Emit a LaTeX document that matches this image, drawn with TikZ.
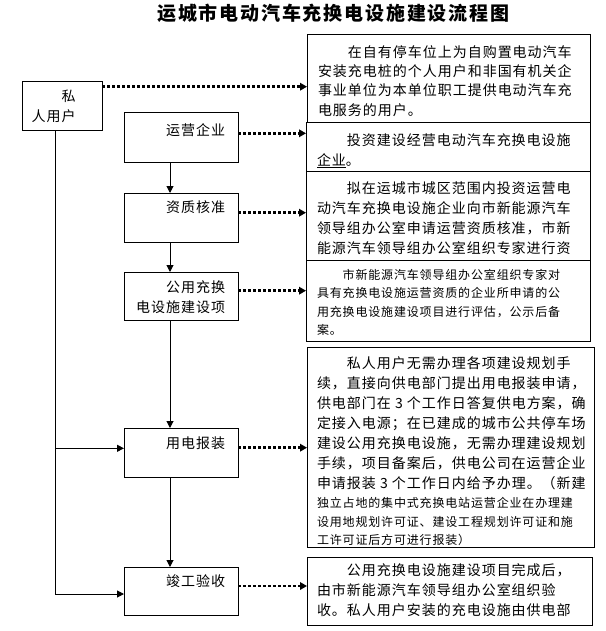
\documentclass[tikz,border=0pt]{standalone}
\usepackage{fontspec}
\newfontfamily\cjk[LetterSpace=7]{Noto Sans CJK SC}
\newfontfamily\cjkt[LetterSpace=9.5]{Noto Sans CJK SC}
\usetikzlibrary{arrows.meta}
\tikzset{
  box/.style={draw, line width=1pt, inner sep=0pt, outer sep=0pt, anchor=north west},
  bigtxt/.style={inner sep=0pt, outer sep=0pt, anchor=north west, align=left, font=\cjk\fontsize{14}{20}\selectfont},
  smalltxt/.style={inner sep=0pt, outer sep=0pt, anchor=north west, align=left, font=\cjk\fontsize{12}{18.33}\selectfont},
  lefttxt/.style={inner sep=0pt, outer sep=0pt, anchor=north east, align=right, font=\cjk\fontsize{14}{20}\selectfont},
  flow/.style={line width=1pt, -{Triangle[length=7pt,width=7pt]}},
  plain/.style={line width=1pt},
  dotarrow/.style={line width=2.5pt, dash pattern=on 3pt off 2pt, -{Triangle[length=7pt,width=7.5pt]}}
}
\newcommand{\bgstrut}{\rule{0pt}{12pt}}
\newcommand{\smstrut}{\rule{0pt}{10.5pt}}
\begin{document}
\begin{tikzpicture}[x=1pt,y=-1pt]
\useasboundingbox (0,0) rectangle (605,631);
\fill[white] (0,0) rectangle (605,631);

% title
\node[inner sep=0pt, font=\cjkt\bfseries\fontsize{19}{19}\selectfont] (title) at (333.3,13.5) {运城市电动汽车充换电设施建设流程图};

% left boxes
\node[box, minimum width=80pt, minimum height=49pt] (P) at (22,82) {};
\node[box, minimum width=114pt, minimum height=50pt] (A) at (124,113) {};
\node[box, minimum width=114pt, minimum height=49pt] (B) at (124,193) {};
\node[box, minimum width=114pt, minimum height=48pt] (C) at (124,272) {};
\node[box, minimum width=114pt, minimum height=49pt] (D) at (124,428) {};
\node[box, minimum width=114pt, minimum height=48pt] (E) at (124,567) {};

\node[lefttxt] (Pt) at (75.5,90) {\bgstrut 私\\人用户};
\node[lefttxt] (At) at (225,123.3) {\bgstrut 运营企业};
\node[lefttxt] (Bt) at (225,200) {\bgstrut 资质核准};
\node[lefttxt] (Ct) at (225,280) {\bgstrut 公用充换\\电设施建设项};
\node[lefttxt] (Dt) at (225,436) {\bgstrut 用电报装};
\node[lefttxt] (Et) at (225,574) {\bgstrut 竣工验收};

% right boxes
\node[box, minimum width=283pt, minimum height=88pt] (R1) at (307,35) {};
\node[box, minimum width=284pt, minimum height=49pt] (R2) at (306,123) {};
\node[box, minimum width=284pt, minimum height=88pt] (R3) at (306,172) {};
\node[box, minimum width=284pt, minimum height=81pt] (R4) at (306,260) {};
\node[box, minimum width=287pt, minimum height=200pt] (R5) at (307,347) {};
\node[box, minimum width=285pt, minimum height=68pt] (R6) at (307,557) {};

\node[bigtxt, font=\cjk\fontsize{14}{19.2}\selectfont] (T1) at (318,45.6) {\bgstrut 　　在自有停车位上为自购置电动汽车\\安装充电桩的个人用户和非国有机关企\\事业单位为本单位职工提供电动汽车充\\电服务的用户。};
\node[bigtxt] (T2) at (317,133.3) {\bgstrut 　　投资建设经营电动汽车充换电设施\\\underline{企业}。};
\node[bigtxt] (T3) at (317,181.6) {\bgstrut 　　拟在运城市城区范围内投资运营电\\动汽车充换电设施企业向市新能源汽车\\领导组办公室申请运营资质核准，市新\\能源汽车领导组办公室组织专家进行资};
\node[smalltxt] (T4) at (317,269.1) {\smstrut 　　市新能源汽车领导组办公室组织专家对\\具有充换电设施运营资质的企业所申请的公\\用充换电设施建设项目进行评估，公示后备\\案。};
\node[bigtxt] (T5) at (317,356.6) {\bgstrut 　　私人用户无需办理各项建设规划手\\续，直接向供电部门提出用电报装申请，\\供电部门在 3 个工作日答复供电方案，确\\定接入电源；在已建成的城市公共停车场\\建设公用充换电设施，无需办理建设规划\\手续，项目备案后，供电公司在运营企业\\申请报装 3 个工作日内给予办理。（新建};
\node[smalltxt] (T5b) at (317,497.4) {\smstrut 独立占地的集中式充换电站运营企业在办理建\\设用地规划许可证、建设工程规划许可证和施\\工许可证后方可进行报装）};
\node[bigtxt] (T6) at (317,563.3) {\bgstrut 　　公用充换电设施建设项目完成后，\\由市新能源汽车领导组办公室组织验\\收。私人用户安装的充电设施由供电部};

% helper coordinates
\coordinate (cx) at (170,0);
\coordinate (lx) at (55,0);
\coordinate (yP) at (0,86.7);
\coordinate (yA) at (0,133.3);
\coordinate (yB) at (0,212.7);
\coordinate (yC) at (0,290.7);
\coordinate (yD) at (0,447.7);
\coordinate (yE) at (0,586);
\coordinate (yD2) at (0,448.3);
\coordinate (yE2) at (0,594);

% solid flow
\draw[flow] (A.south -| cx) -- (B.north -| cx);
\draw[flow] (B.south -| cx) -- (C.north -| cx);
\draw[flow] (C.south -| cx) -- (D.north -| cx);
\draw[flow] (D.south -| cx) -- (E.north -| cx);
\draw[flow] (P.south -| lx) |- (E.west |- yE2);
\draw[flow] (lx |- yD2) -- (D.west |- yD2);

% dotted arrows
\draw[dotarrow] (P.east |- yP) -- (R1.west |- yP);
\draw[dotarrow] (A.east |- yA) -- (R2.west |- yA);
\draw[dotarrow] (B.east |- yB) -- (R3.west |- yB);
\draw[dotarrow] (C.east |- yC) -- (R4.west |- yC);
\draw[dotarrow] (D.east |- yD) -- (R5.west |- yD);
\draw[dotarrow] (E.east |- yE) -- (R6.west |- yE);
\end{tikzpicture}
\end{document}
